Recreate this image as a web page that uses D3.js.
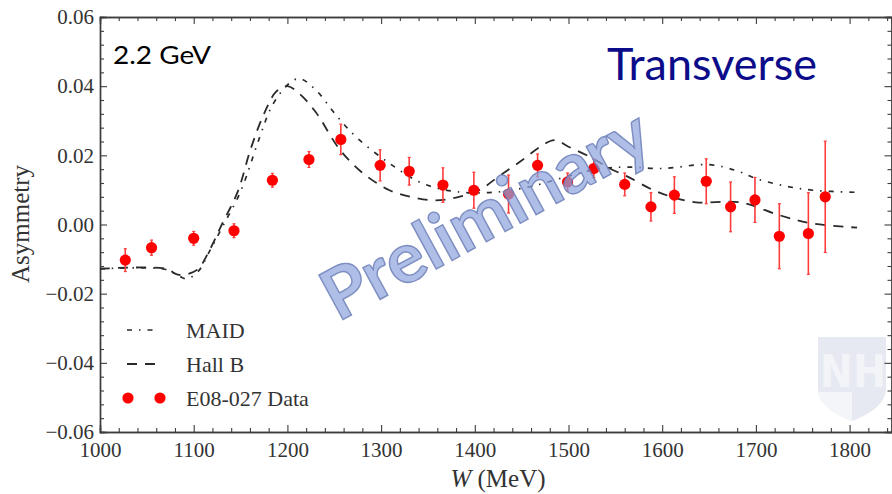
<!DOCTYPE html>
<html>
<head>
<meta charset="utf-8">
<script src="https://cdn.jsdelivr.net/npm/d3@7/dist/d3.min.js"></script>
<style>
  html, body { margin: 0; padding: 0; background: #fff; }
  svg { display: block; }
</style>
</head>
<body>
<svg id="chart" width="892" height="494"></svg>
<script>
// Beam-target asymmetry vs W, transverse target, 2.2 GeV beam
const xTickValues = [1000, 1100, 1200, 1300, 1400, 1500, 1600, 1700, 1800];
const yTickValues = [-0.06, -0.04, -0.02, 0.00, 0.02, 0.04, 0.06];

// E08-027 data points
const dataW   = [1027, 1055, 1100, 1143, 1184, 1223, 1257, 1299, 1330, 1366, 1399, 1436,
                 1467, 1499, 1527, 1560, 1588, 1613, 1647, 1673, 1699, 1725, 1756, 1774];
const dataA   = [-0.0103, -0.0067, -0.0040, -0.0018, 0.0128, 0.0188, 0.0246, 0.0171, 0.0154, 0.0114, 0.0099, 0.0088,
                 0.0171, 0.0123, 0.0162, 0.0116, 0.0051, 0.0085, 0.0125, 0.0051, 0.0071, -0.0034, -0.0026, 0.0080];
const dataErr = [0.0033, 0.0022, 0.0020, 0.0020, 0.0020, 0.0023, 0.0044, 0.0045, 0.0040, 0.0050, 0.0052, 0.0055,
                 0.0033, 0.0026, 0.0027, 0.0033, 0.0041, 0.0053, 0.0065, 0.0072, 0.0065, 0.0094, 0.0118, 0.0161];

// MAID model curve
const maidW = [1000, 1070, 1085, 1093, 1105, 1116, 1132, 1150, 1170, 1184, 1202, 1213, 1230, 1252, 1275,
               1312, 1344, 1380, 1420, 1460, 1500, 1530, 1560, 1600, 1650, 1680, 1700, 1730, 1761, 1808];
const maidA = [-0.0128, -0.0130, -0.0150, -0.0157, -0.0135, -0.0082, 0.0000, 0.0095, 0.0249, 0.0345, 0.0408, 0.0422, 0.0390, 0.0316, 0.0249,
               0.0171, 0.0119, 0.0095, 0.0093, 0.0110, 0.0140, 0.0160, 0.0166, 0.0162, 0.0173, 0.0155, 0.0133, 0.0112, 0.0099, 0.0093];

// Hall B model curve
const hallbW = [1000, 1070, 1083, 1095, 1105, 1116, 1130, 1147, 1161, 1175, 1188, 1200, 1212, 1230, 1255, 1279,
                1309, 1335, 1358, 1380, 1405, 1426, 1450, 1470, 1485, 1500, 1526, 1544, 1562, 1590, 1610, 1636, 1683, 1725, 1760, 1808];
const hallbA = [-0.0128, -0.0128, -0.0145, -0.0142, -0.0128, -0.0079, 0.0000, 0.0095, 0.0220, 0.0320, 0.0384, 0.0400, 0.0380, 0.0326, 0.0220, 0.0152,
                0.0099, 0.0078, 0.0070, 0.0078, 0.0100, 0.0140, 0.0185, 0.0225, 0.0244, 0.0225, 0.0191, 0.0162, 0.0140, 0.0100, 0.0080, 0.0064, 0.0064, 0.0027, 0.0003, -0.0009];

const legendLabels = ["MAID", "Hall B", "E08-027 Data"];

const svg = d3.select("#chart");
const plotLeft = 100, plotRight = 892, plotTop = 17, plotBottom = 432;

const x = d3.scaleLinear().domain([1000, 1000 + (plotRight - plotLeft) / 0.937]).range([plotLeft, plotRight]);
const y = d3.scaleLinear().domain([-0.06, 0.06]).range([plotBottom, plotTop]);

const frameColor = "#3d3d3d";
const serif = "'Liberation Serif', 'Times New Roman', serif";

svg.append("rect").attr("width", 892).attr("height", 494).attr("fill", "#fff");

// University shield emblem in the lower right corner
const logo = svg.append("g");
logo.append("path")
  .attr("d", "M818,337 H886 V388 C886,404 870,414 852,421 C834,414 818,404 818,388 Z")
  .attr("fill", "#e6e9f1");
logo.append("path")
  .attr("d", "M818,392 H852 V421 C834,414 818,404 818,390 Z")
  .attr("fill", "#f4f5f9");
logo.append("text")
  .attr("x", 853).attr("y", 387)
  .attr("text-anchor", "middle")
  .attr("font-family", "'Liberation Sans Narrow', 'DejaVu Sans Condensed', sans-serif")
  .attr("font-weight", "bold")
  .attr("font-size", 44)
  .attr("fill", "#f3f4f8")
  .text("NH");

// Minor tick values
const xMinor = d3.range(1000, 1845, 20).filter(v => v % 100 !== 0);
const yMinor = d3.range(-0.06, 0.0601, 0.004).map(v => +v.toFixed(3))
  .filter(v => Math.abs(Math.round(v / 0.02) * 0.02 - v) > 1e-6);

function styleAxis(g) {
  g.select(".domain").attr("stroke", frameColor).attr("stroke-width", 1.4);
  g.selectAll(".tick line").attr("stroke", frameColor).attr("stroke-width", 1.1);
  g.selectAll("text").attr("font-family", serif).attr("font-size", 21).attr("fill", "#333");
}

// Bottom axis
const gb = svg.append("g").attr("transform", `translate(0,${plotBottom})`)
  .call(d3.axisBottom(x).tickValues(xTickValues).tickSize(-7).tickPadding(10).tickFormat(d3.format("d")));
styleAxis(gb);
const gbm = svg.append("g").attr("transform", `translate(0,${plotBottom})`)
  .call(d3.axisBottom(x).tickValues(xMinor).tickSize(-4).tickFormat(""));
styleAxis(gbm);

// Top axis
const gt = svg.append("g").attr("transform", `translate(0,${plotTop})`)
  .call(d3.axisTop(x).tickValues(xTickValues).tickSize(-7).tickFormat(""));
styleAxis(gt);
const gtm = svg.append("g").attr("transform", `translate(0,${plotTop})`)
  .call(d3.axisTop(x).tickValues(xMinor).tickSize(-4).tickFormat(""));
styleAxis(gtm);

// Left axis
const gl = svg.append("g").attr("transform", `translate(${plotLeft},0)`)
  .call(d3.axisLeft(y).tickValues(yTickValues).tickSize(-7).tickPadding(6).tickFormat(d3.format(".2f")));
styleAxis(gl);
const glm = svg.append("g").attr("transform", `translate(${plotLeft},0)`)
  .call(d3.axisLeft(y).tickValues(yMinor).tickSize(-4).tickFormat(""));
styleAxis(glm);

// Right axis
const gr = svg.append("g").attr("transform", `translate(${plotRight - 0.5},0)`)
  .call(d3.axisRight(y).tickValues(yTickValues).tickSize(-7).tickFormat(""));
styleAxis(gr);
const grm = svg.append("g").attr("transform", `translate(${plotRight - 0.5},0)`)
  .call(d3.axisRight(y).tickValues(yMinor).tickSize(-4).tickFormat(""));
styleAxis(grm);

// Axis titles
const xt = svg.append("text")
  .attr("x", 498).attr("y", 487)
  .attr("text-anchor", "middle")
  .attr("font-family", serif).attr("font-size", 25).attr("fill", "#333");
xt.append("tspan").attr("font-style", "italic").text("W");
xt.append("tspan").text(" (MeV)");

svg.append("text")
  .attr("transform", "translate(29,224) rotate(-90)")
  .attr("text-anchor", "middle")
  .attr("font-family", serif).attr("font-size", 25).attr("fill", "#333")
  .text("Asymmetry");

// Model curves
const line = d3.line().x(d => x(d[0])).y(d => y(d[1])).curve(d3.curveCatmullRom.alpha(0.5));
const lineColor = "#2a2a2a";
const maidDash = "5,7,1.5,7";
const hallbDash = "10,8";

svg.append("path")
  .attr("d", line(d3.zip(maidW, maidA)))
  .attr("fill", "none").attr("stroke", lineColor).attr("stroke-width", 1.7)
  .attr("stroke-dasharray", maidDash);

svg.append("path")
  .attr("d", line(d3.zip(hallbW, hallbA)))
  .attr("fill", "none").attr("stroke", lineColor).attr("stroke-width", 1.8)
  .attr("stroke-dasharray", hallbDash);

// Data with error bars
const pts = svg.append("g");
const rows = d3.range(dataW.length).map(i => ({ w: dataW[i], a: dataA[i], e: dataErr[i] }));
pts.selectAll("line.err").data(rows).join("line")
  .attr("class", "err")
  .attr("x1", d => x(d.w)).attr("x2", d => x(d.w))
  .attr("y1", d => y(d.a + d.e)).attr("y2", d => y(d.a - d.e))
  .attr("stroke", "#ff3b3b").attr("stroke-width", 1.6);
pts.selectAll("line.capT").data(rows).join("line")
  .attr("class", "capT")
  .attr("x1", d => x(d.w) - 1.5).attr("x2", d => x(d.w) + 1.5)
  .attr("y1", d => y(d.a + d.e)).attr("y2", d => y(d.a + d.e))
  .attr("stroke", "#ff3b3b").attr("stroke-width", 1.2);
pts.selectAll("line.capB").data(rows).join("line")
  .attr("class", "capB")
  .attr("x1", d => x(d.w) - 1.5).attr("x2", d => x(d.w) + 1.5)
  .attr("y1", d => y(d.a - d.e)).attr("y2", d => y(d.a - d.e))
  .attr("stroke", "#ff3b3b").attr("stroke-width", 1.2);
pts.selectAll("circle").data(rows).join("circle")
  .attr("cx", d => x(d.w)).attr("cy", d => y(d.a))
  .attr("r", 5.6).attr("fill", "#ff0000");

// Legend
const lg = svg.append("g");
const rowY = [330, 364, 398];
lg.append("line").attr("x1", 127).attr("x2", 156).attr("y1", rowY[0]).attr("y2", rowY[0])
  .attr("stroke", lineColor).attr("stroke-width", 1.7).attr("stroke-dasharray", maidDash);
lg.append("line").attr("x1", 127).attr("x2", 157).attr("y1", rowY[1]).attr("y2", rowY[1])
  .attr("stroke", lineColor).attr("stroke-width", 1.8).attr("stroke-dasharray", hallbDash);
[128, 160].forEach(cx => lg.append("circle").attr("cx", cx).attr("cy", rowY[2]).attr("r", 5.6).attr("fill", "#ff0000"));
lg.selectAll("text").data(legendLabels).join("text")
  .attr("x", 186).attr("y", (d, i) => rowY[i] + 8)
  .attr("font-family", serif).attr("font-size", 22).attr("fill", "#333")
  .text(d => d);

// Beam energy and target polarization labels
svg.append("text")
  .attr("x", 113).attr("y", 64)
  .attr("font-family", "Lato, 'Open Sans', sans-serif").attr("font-size", 25)
  .attr("textLength", 98).attr("lengthAdjust", "spacingAndGlyphs")
  .attr("fill", "#000")
  .text("2.2 GeV");

svg.append("text")
  .attr("x", 607).attr("y", 80)
  .attr("font-family", "Lato, 'Open Sans', sans-serif").attr("font-size", 45)
  .attr("textLength", 210).attr("lengthAdjust", "spacingAndGlyphs")
  .attr("fill", "#0c0c8a")
  .text("Transverse");

// Preliminary stamp across the plot
svg.append("text")
  .attr("transform", "translate(497,236) rotate(-28.5)")
  .attr("text-anchor", "middle")
  .attr("font-family", "Lato, 'Open Sans', sans-serif").attr("font-size", 70)
  .attr("font-weight", "bold")
  .attr("textLength", 362).attr("lengthAdjust", "spacingAndGlyphs")
  .attr("fill", "#8fa5dc").attr("fill-opacity", 0.72)
  .attr("stroke", "#6f80b8").attr("stroke-width", 1.4).attr("stroke-opacity", 0.85)
  .text("Preliminary");
</script>
</body>
</html>
